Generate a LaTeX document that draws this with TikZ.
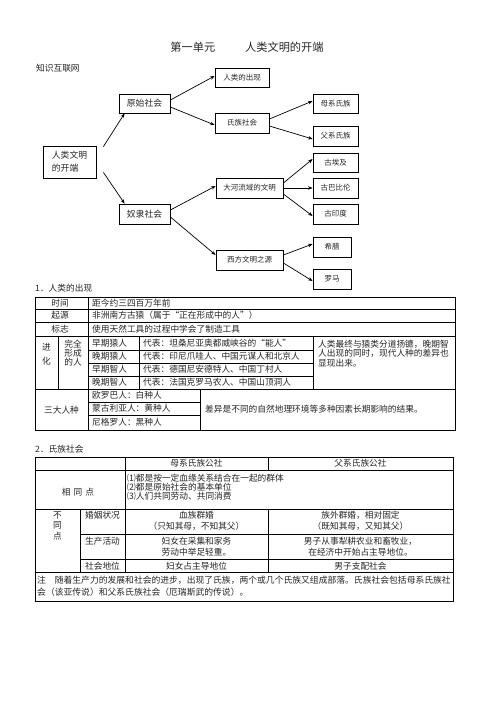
\documentclass[tikz,border=0pt]{standalone}
\usepackage{fontspec}
\newfontfamily\cjk{Noto Sans CJK SC}
\usetikzlibrary{arrows.meta}
\begin{document}
\begin{tikzpicture}[x=1pt, y=-1pt,
    box/.style={draw, line width=0.8pt, inner sep=0pt, text=black!85,
      font=\cjk\fontsize{7.5}{9}\selectfont},
    bigbox/.style={box, font=\cjk\fontsize{8.8}{13}\selectfont},
    link/.style={-{Stealth[length=4.5pt, width=3.5pt]}, line width=0.7pt},
    cell/.style={inner sep=0pt, text=black!85, font=\cjk\fontsize{8.7}{10}\selectfont},
    rule/.style={line width=0.8pt}]
  \useasboundingbox[fill=white] (0,0) rectangle (496,702);
  % Title
  \node[cell, font=\cjk\fontsize{11.2}{13}\selectfont] (title) at (247,47) {第一单元\hspace{30pt}人类文明的开端};
  \node[cell, anchor=west] (net) at (36,68) {知识互联网};

  % Concept map
  \node[bigbox, minimum width=53, minimum height=32, align=left] (kaiduan) at (69.5,162) {人类文明\\的开端};
  \node[bigbox, minimum width=51, minimum height=19] (yuanshi) at (144.5,103.5) {原始社会};
  \node[bigbox, minimum width=51, minimum height=20] (nuli) at (144.5,214) {奴隶社会};
  \node[box, minimum width=54, minimum height=19] (chuxian) at (242,77.5) {人类的出现};
  \node[box, minimum width=54, minimum height=20] (shizu) at (242,123) {氏族社会};
  \node[box, minimum width=45, minimum height=19] (muxi) at (335.5,103.5) {母系氏族};
  \node[box, minimum width=45, minimum height=20] (fuxi) at (335.5,136) {父系氏族};
  \node[box, minimum width=67, minimum height=20] (dahe) at (249.5,188) {大河流域的文明};
  \node[box, minimum width=45, minimum height=19] (aiji) at (335.5,162.5) {古埃及};
  \node[box, minimum width=45, minimum height=20] (babilun) at (335.5,188) {古巴比伦};
  \node[box, minimum width=45, minimum height=20] (yindu) at (335.5,214) {古印度};
  \node[box, minimum width=67, minimum height=20] (xifang) at (249.5,260) {西方文明之源};
  \node[box, minimum width=38, minimum height=20] (xila) at (332,247) {希腊};
  \node[box, minimum width=38, minimum height=20] (luoma) at (332,279) {罗马};

  \draw[link] ([xshift=7pt, yshift=-1pt]kaiduan.north east) -- ([xshift=6pt]yuanshi.south west);
  \draw[link] ([xshift=7pt, yshift=6pt]kaiduan.south east) -- ([xshift=6pt]nuli.north west);
  \draw[link] ([yshift=3.5pt]yuanshi.east) -- ([yshift=1.5pt]chuxian.west);
  \draw[link] ([yshift=-3.5pt]yuanshi.east) -- ([yshift=-2pt]shizu.west);
  \draw[link] ([yshift=4pt]shizu.east) -- ([yshift=2.5pt]muxi.west);
  \draw[link] ([yshift=-3pt]shizu.east) -- ([yshift=-3pt]fuxi.west);
  \draw[link] ([yshift=4pt]nuli.east) -- ([yshift=2pt]dahe.west);
  \draw[link] ([yshift=-3pt]nuli.east) -- ([yshift=5pt]xifang.west);
  \draw[link] ([yshift=5pt]dahe.east) -- ([yshift=3.5pt]aiji.west);
  \draw[link] (dahe.east) -- (babilun.west);
  \draw[link] ([yshift=-6pt]dahe.east) -- ([yshift=-2pt]yindu.west);
  \draw[link] ([yshift=5pt]xifang.east) -- ([yshift=3pt]xila.west);
  \draw[link] ([yshift=-3pt]xifang.east) -- ([yshift=-2pt]luoma.west);

  % Table 1
  \node[cell, anchor=west] (sec1) at (35,288) {1．人类的出现};
  \draw[rule] (35,297) rectangle (455,430);
  \foreach \y in {309,322,336,389} \draw[rule] (35,\y) -- (455,\y);
  \foreach \y in {350,363,376} \draw[rule] (88,\y) -- (313,\y);
  \foreach \y in {402,415} \draw[rule] (88,\y) -- (200,\y);
  \draw[rule] (88,297) -- (88,430);
  \draw[rule] (58,336) -- (58,389);
  \draw[rule] (139,336) -- (139,389);
  \draw[rule] (313,336) -- (313,389);
  \draw[rule] (200,389) -- (200,430);

  \node[cell] (shijian) at (60,303) {时间};
  \node[cell] (qiyuan) at (60,315.5) {起源};
  \node[cell] (biaozhi) at (60,329) {标志};
  \node[cell, anchor=west] (shijiant) at (92,303) {距今约三四百万年前};
  \node[cell, anchor=west] (qiyuant) at (92,315.5) {非洲南方古猿（属于“正在形成中的人”）};
  \node[cell, anchor=west] (biaozhit) at (92,329) {使用天然工具的过程中学会了制造工具};
  \node[cell, align=center, font=\cjk\fontsize{8.7}{14}\selectfont] (jinhua) at (46.5,354) {进\\化};
  \node[cell, align=center, font=\cjk\fontsize{8.7}{9}\selectfont] (wanquan) at (73,353) {完全\\形成\\的人};
  \node[cell, anchor=west] (zqyr) at (92,343) {早期猿人};
  \node[cell, anchor=west] (wqyr) at (92,356.5) {晚期猿人};
  \node[cell, anchor=west] (zqzr) at (92,369.5) {早期智人};
  \node[cell, anchor=west] (wqzr) at (92,382.5) {晚期智人};
  \node[cell, anchor=west] (db1) at (143,343) {代表：坦桑尼亚奥都威峡谷的“能人”};
  \node[cell, anchor=west] (db2) at (143,356.5) {代表：印尼爪哇人、中国元谋人和北京人};
  \node[cell, anchor=west] (db3) at (143,369.5) {代表：德国尼安德特人、中国丁村人};
  \node[cell, anchor=west] (db4) at (143,382.5) {代表：法国克罗马农人、中国山顶洞人};
  \node[cell, anchor=west, align=left, font=\cjk\fontsize{8.7}{9.6}\selectfont] (fendao) at (318,353.5)
    {人类最终与猿类分道扬镳，晚期智\\人出现的同时，现代人种的差异也\\显现出来。};
  \node[cell] (renzhong) at (61.5,410) {三大人种};
  \node[cell, anchor=west] (ouluoba) at (92,395.5) {欧罗巴人：白种人};
  \node[cell, anchor=west] (menggu) at (92,408.5) {蒙古利亚人：黄种人};
  \node[cell, anchor=west] (nigeluo) at (92,422.5) {尼格罗人：黑种人};
  \node[cell, anchor=west] (chayi) at (205,409.5) {差异是不同的自然地理环境等多种因素长期影响的结果。};

  % Table 2
  \node[cell, anchor=west] (sec2) at (35,449) {2．氏族社会};
  \draw[rule] (35,457) rectangle (453,601);
  \foreach \y in {470,509,572} \draw[rule] (35,\y) -- (453,\y);
  \foreach \y in {534,559} \draw[rule] (80,\y) -- (453,\y);
  \draw[rule] (125,457) -- (125,572);
  \draw[rule] (268,457) -- (268,470) (268,509) -- (268,572);
  \draw[rule] (80,509) -- (80,572);

  \node[cell] (muxih) at (196.5,463.5) {母系氏族公社};
  \node[cell] (fuxih) at (360.5,463.5) {父系氏族公社};
  \node[cell] (xiangtong) at (78,492) {相\hspace{3pt}同\hspace{3pt}点};
  \node[cell, anchor=west] (tong1) at (127,478) {⑴都是按一定血缘关系结合在一起的群体};
  \node[cell, anchor=west] (tong2) at (127,487) {⑵都是原始社会的基本单位};
  \node[cell, anchor=west] (tong3) at (127,496) {⑶人们共同劳动、共同消费};
  \node[cell, align=center, font=\cjk\fontsize{8.7}{10.5}\selectfont] (butong) at (57.5,525.5) {不\\同\\点};
  \node[cell] (hunyin) at (102.5,515) {婚姻状况};
  \node[cell] (shengchan) at (102.5,541) {生产活动};
  \node[cell] (diwei) at (102.5,566) {社会地位};
  \node[cell, align=center, font=\cjk\fontsize{8.7}{11}\selectfont] (muhun) at (196.5,520.5) {血族群婚\\（只知其母，不知其父）};
  \node[cell, align=center, font=\cjk\fontsize{8.7}{11}\selectfont] (musheng) at (196.5,546.5) {妇女在采集和家务\\劳动中举足轻重。};
  \node[cell] (mudi) at (196.5,566) {妇女占主导地位};
  \node[cell, align=center, font=\cjk\fontsize{8.7}{11}\selectfont] (fuhun) at (360.5,520.5) {族外群婚，相对固定\\（既知其母，又知其父）};
  \node[cell, align=center, font=\cjk\fontsize{8.7}{11}\selectfont] (fusheng) at (360.5,546.5) {男子从事犁耕农业和畜牧业，\\在经济中开始占主导地位。};
  \node[cell] (fudi) at (360.5,566) {男子支配社会};
  \node[cell, anchor=west, font=\cjk\fontsize{8.8}{10}\selectfont] (zhu1) at (37,580) {注\hspace{8.8pt}随着生产力的发展和社会的进步，出现了氏族，两个或几个氏族又组成部落。氏族社会包括母系氏族社};
  \node[cell, anchor=west, font=\cjk\fontsize{8.8}{10}\selectfont] (zhu2) at (37,592) {会（该亚传说）和父系氏族社会（厄瑞斯武的传说）。};
\end{tikzpicture}
\end{document}
